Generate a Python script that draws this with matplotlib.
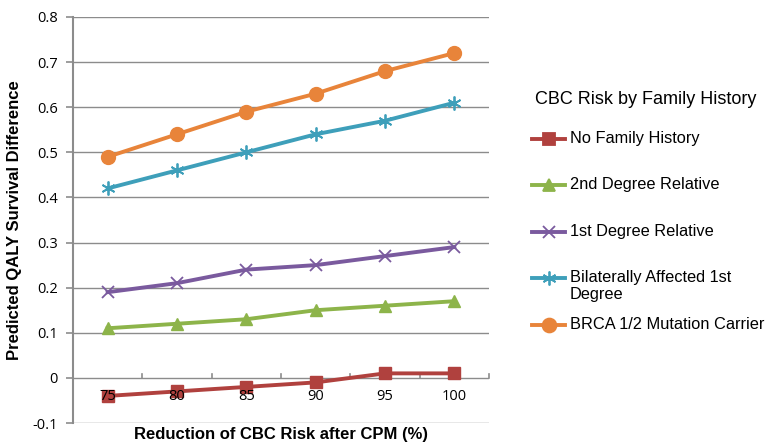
import matplotlib
matplotlib.use("Agg")
import matplotlib.pyplot as plt
from matplotlib.lines import Line2D

categories = ["75", "80", "85", "90", "95", "100"]
no_family = [-0.04, -0.03, -0.02, -0.01, 0.01, 0.01]
second_degree = [0.11, 0.12, 0.13, 0.15, 0.16, 0.17]
first_degree = [0.19, 0.21, 0.24, 0.25, 0.27, 0.29]
bilateral = [0.42, 0.46, 0.50, 0.54, 0.57, 0.61]
brca = [0.49, 0.54, 0.59, 0.63, 0.68, 0.72]
series_names = ["No Family History", "2nd Degree Relative", "1st Degree Relative",
                "Bilaterally Affected 1st\nDegree", "BRCA 1/2 Mutation Carrier"]
y_ticks = [-0.1, 0, 0.1, 0.2, 0.3, 0.4, 0.5, 0.6, 0.7, 0.8]

colors = ["#B0413E", "#8DB44A", "#7A5A9E", "#3E9FBA", "#E8843A"]
markers = ["s", "^", "x", "*", "o"]
msizes = [9, 9, 9, 10, 10]

W, H = 767, 444
fig = plt.figure(figsize=(W / 100, H / 100), dpi=100)
ax = fig.add_axes([73 / W, 1 - 423 / H, (489 - 73) / W, (423 - 17) / H])

x = list(range(len(categories)))
data = [no_family, second_degree, first_degree, bilateral, brca]
for vals, c, m, ms in zip(data, colors, markers, msizes):
    if m in ("x", "*"):
        ax.plot(x, vals, color=c, lw=2.8, marker="x" if m == "x" else (6, 2, 0),
                ms=ms, mew=1.3, mec=c, zorder=3)
    else:
        ax.plot(x, vals, color=c, lw=2.8, marker=m, ms=ms, mec=c, mfc=c, zorder=3)

ax.set_xlim(-0.5, len(categories) - 0.5)
ax.set_ylim(-0.1, 0.8)
ax.set_yticks(y_ticks)
ax.set_yticklabels(["-0.1", "0", "0.1", "0.2", "0.3", "0.4", "0.5", "0.6", "0.7", "0.8"],
                   fontfamily="Open Sans", fontsize=10.5)
for yt in y_ticks:
    ax.axhline(yt, color="#8C8C8C", lw=1.0, zorder=1)
ax.set_xticks([])
for s in ["top", "right", "bottom"]:
    ax.spines[s].set_visible(False)
ax.spines["left"].set_color("#8C8C8C")
ax.spines["left"].set_linewidth(1.5)
ax.tick_params(axis="y", length=5, color="#8C8C8C", width=1.2, pad=6)

# category axis at y=0 with upward tick marks at boundaries
for b in range(len(categories) + 1):
    ax.plot([b - 0.5, b - 0.5], [0, 0.008], color="#8C8C8C", lw=1.2, zorder=2,
            clip_on=False)
for xi, lab in zip(x, categories):
    ax.text(xi, -0.024, lab, ha="center", va="top", fontfamily="Open Sans",
            fontsize=10.5, zorder=4)

ax.set_xlabel("Reduction of CBC Risk after CPM (%)", fontfamily="Liberation Sans",
              fontweight="bold", fontsize=12, labelpad=3)
ax.set_ylabel("Predicted QALY Survival Difference", fontfamily="Liberation Sans",
              fontweight="bold", fontsize=12, labelpad=7)

# legend
fig.text(535 / W, 1 - 100 / H, "CBC Risk by Family History", fontfamily="Liberation Sans",
         fontsize=13, ha="left", va="center")
ys = [139, 185, 232, 278, 325]
for yy, name, c, m, ms in zip(ys, series_names, colors, markers, msizes):
    yf = 1 - yy / H
    mk = "x" if m == "x" else ((6, 2, 0) if m == "*" else m)
    fig.add_artist(Line2D([532 / W, 565 / W], [yf, yf], color=c, lw=2.8,
                          transform=fig.transFigure))
    fig.add_artist(Line2D([548.5 / W], [yf], marker=mk, ms=ms, color=c, mec=c, mfc=c,
                          mew=1.3, transform=fig.transFigure))
    fig.text(570 / W, yf + 8 / H, name, fontfamily="Liberation Sans", fontsize=11.8,
             ha="left", va="top", linespacing=1.15)

fig.savefig("out.png", dpi=100)
